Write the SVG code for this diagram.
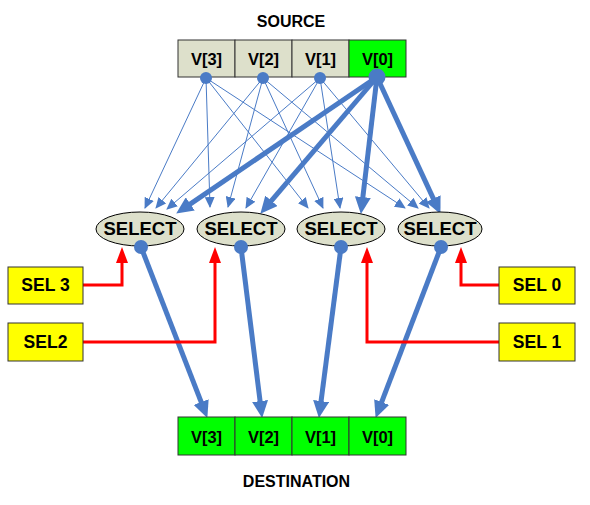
<svg xmlns="http://www.w3.org/2000/svg" width="590" height="505" viewBox="0 0 590 505">
<style>
  .cellS{fill:#DDE0CB;stroke:#333;stroke-width:1}
  .cellG{fill:#00FF00;stroke:#333;stroke-width:1}
  .sel{fill:#FFFF00;stroke:#333;stroke-width:1}
  .ell{fill:#DDE0CB;stroke:#000;stroke-width:1}
  .t{font-family:"Liberation Sans",Arial,sans-serif;font-weight:bold;fill:#000;text-anchor:middle}
  .v{font-size:16.5px}
  .sl{font-size:17.5px}
  .s{font-size:18.5px}
  .lbl{font-size:16px}
  .thin{stroke:#4A7BC6;stroke-width:1;fill:none;marker-end:url(#ah)}
  .thick{stroke:#4A7BC6;stroke-width:5;fill:none;marker-end:url(#AH)}
  .red{stroke:#FF0000;stroke-width:3;fill:none}
  .dot{fill:#4A7BC6}
</style>
<defs>
  <marker id="ah" markerUnits="userSpaceOnUse" markerWidth="11" markerHeight="10" refX="10" refY="5" orient="auto">
    <path d="M0,0 L11,5 L0,10 z" fill="#4A7BC6"/>
  </marker>
  <marker id="AH" markerUnits="userSpaceOnUse" markerWidth="17" markerHeight="16" refX="10" refY="8" orient="auto">
    <path d="M0,0 L17,8 L0,16 z" fill="#4A7BC6"/>
  </marker>
</defs>
<rect width="590" height="505" fill="#fff"/>
<g id="connectors">
  <line class="thin" x1="206" y1="78" x2="145" y2="208"/>
  <line class="thin" x1="263" y1="78" x2="156" y2="208"/>
  <line class="thin" x1="320" y1="78" x2="167" y2="209"/>
  <line class="thin" x1="206" y1="78" x2="210" y2="207"/>
  <line class="thin" x1="263" y1="78" x2="228" y2="207"/>
  <line class="thin" x1="320" y1="78" x2="246" y2="208"/>
  <line class="thin" x1="206" y1="78" x2="308" y2="208"/>
  <line class="thin" x1="263" y1="78" x2="323" y2="208"/>
  <line class="thin" x1="320" y1="78" x2="340" y2="208"/>
  <line class="thin" x1="206" y1="78" x2="405" y2="208"/>
  <line class="thin" x1="263" y1="78" x2="418" y2="208"/>
  <line class="thin" x1="320" y1="78" x2="429" y2="208"/>
  <line class="thick" x1="377" y1="77" x2="182" y2="209.6"/>
  <line class="thick" x1="377" y1="77" x2="264.9" y2="208.4"/>
  <line class="thick" x1="377" y1="77" x2="361.7" y2="207"/>
  <line class="thick" x1="377" y1="77" x2="437.5" y2="207.6"/>
  <line class="thick" x1="141" y1="247" x2="204.8" y2="411.4"/>
  <line class="thick" x1="241" y1="247" x2="261.3" y2="411"/>
  <line class="thick" x1="341" y1="247" x2="319.8" y2="411"/>
  <line class="thick" x1="441" y1="247" x2="378.1" y2="411.4"/>
  <polyline class="red" points="83,285 122,285 122,261"/>
  <polygon points="122,247 116,263 128,263" fill="#FF0000"/>
  <polyline class="red" points="83,342 215,342 215,261"/>
  <polygon points="215,247 209,263 221,263" fill="#FF0000"/>
  <polyline class="red" points="499,285 461,285 461,261"/>
  <polygon points="461,247 455,263 467,263" fill="#FF0000"/>
  <polyline class="red" points="499,342 367,342 367,261"/>
  <polygon points="367,247 361,263 373,263" fill="#FF0000"/>
</g>
<text class="t lbl" x="291" y="26.5">SOURCE</text>
<text class="t lbl" x="296.5" y="486.5">DESTINATION</text>
<g id="source">
  <g id="src3"><rect class="cellS" x="178" y="40" width="57" height="37"/><text class="t v" x="206.5" y="65">V[3]</text><circle class="dot" cx="206" cy="78" r="6"/></g>
  <g id="src2"><rect class="cellS" x="235" y="40" width="57" height="37"/><text class="t v" x="263.5" y="65">V[2]</text><circle class="dot" cx="263" cy="78" r="6"/></g>
  <g id="src1"><rect class="cellS" x="292" y="40" width="57" height="37"/><text class="t v" x="320.5" y="65">V[1]</text><circle class="dot" cx="320" cy="78" r="6"/></g>
  <g id="src0"><rect class="cellG" x="349" y="40" width="57" height="37"/><text class="t v" x="377.5" y="65">V[0]</text><circle class="dot" cx="377" cy="77" r="8.5"/></g>
</g>
<g id="select3"><ellipse class="ell" cx="140" cy="229" rx="44" ry="17"/><text class="t s" x="140" y="234.5">SELECT</text><circle class="dot" cx="141" cy="247" r="7"/></g>
<g id="select2"><ellipse class="ell" cx="241" cy="229" rx="44" ry="17"/><text class="t s" x="241" y="234.5">SELECT</text><circle class="dot" cx="241" cy="247" r="7"/></g>
<g id="select1"><ellipse class="ell" cx="341" cy="229" rx="44" ry="17"/><text class="t s" x="341" y="234.5">SELECT</text><circle class="dot" cx="341" cy="247" r="7"/></g>
<g id="select0"><ellipse class="ell" cx="440" cy="229" rx="42" ry="17"/><text class="t s" x="440" y="234.5">SELECT</text><circle class="dot" cx="441" cy="247" r="7"/></g>
<g id="sel3"><rect class="sel" x="8" y="267" width="75" height="37"/><text class="t sl" x="45.5" y="291">SEL 3</text></g>
<g id="sel2"><rect class="sel" x="8" y="323" width="75" height="38"/><text class="t sl" x="45.5" y="348">SEL2</text></g>
<g id="sel0"><rect class="sel" x="499" y="267" width="76" height="37"/><text class="t sl" x="537" y="291">SEL 0</text></g>
<g id="sel1"><rect class="sel" x="499" y="323" width="76" height="38"/><text class="t sl" x="537" y="348">SEL 1</text></g>
<g id="destination">
  <g id="dst3"><rect class="cellG" x="178" y="417" width="57" height="38"/><text class="t v" x="206.5" y="443">V[3]</text></g>
  <g id="dst2"><rect class="cellG" x="235" y="417" width="57" height="38"/><text class="t v" x="263.5" y="443">V[2]</text></g>
  <g id="dst1"><rect class="cellG" x="292" y="417" width="57" height="38"/><text class="t v" x="320.5" y="443">V[1]</text></g>
  <g id="dst0"><rect class="cellG" x="349" y="417" width="57" height="38"/><text class="t v" x="377.5" y="443">V[0]</text></g>
</g>
</svg>
